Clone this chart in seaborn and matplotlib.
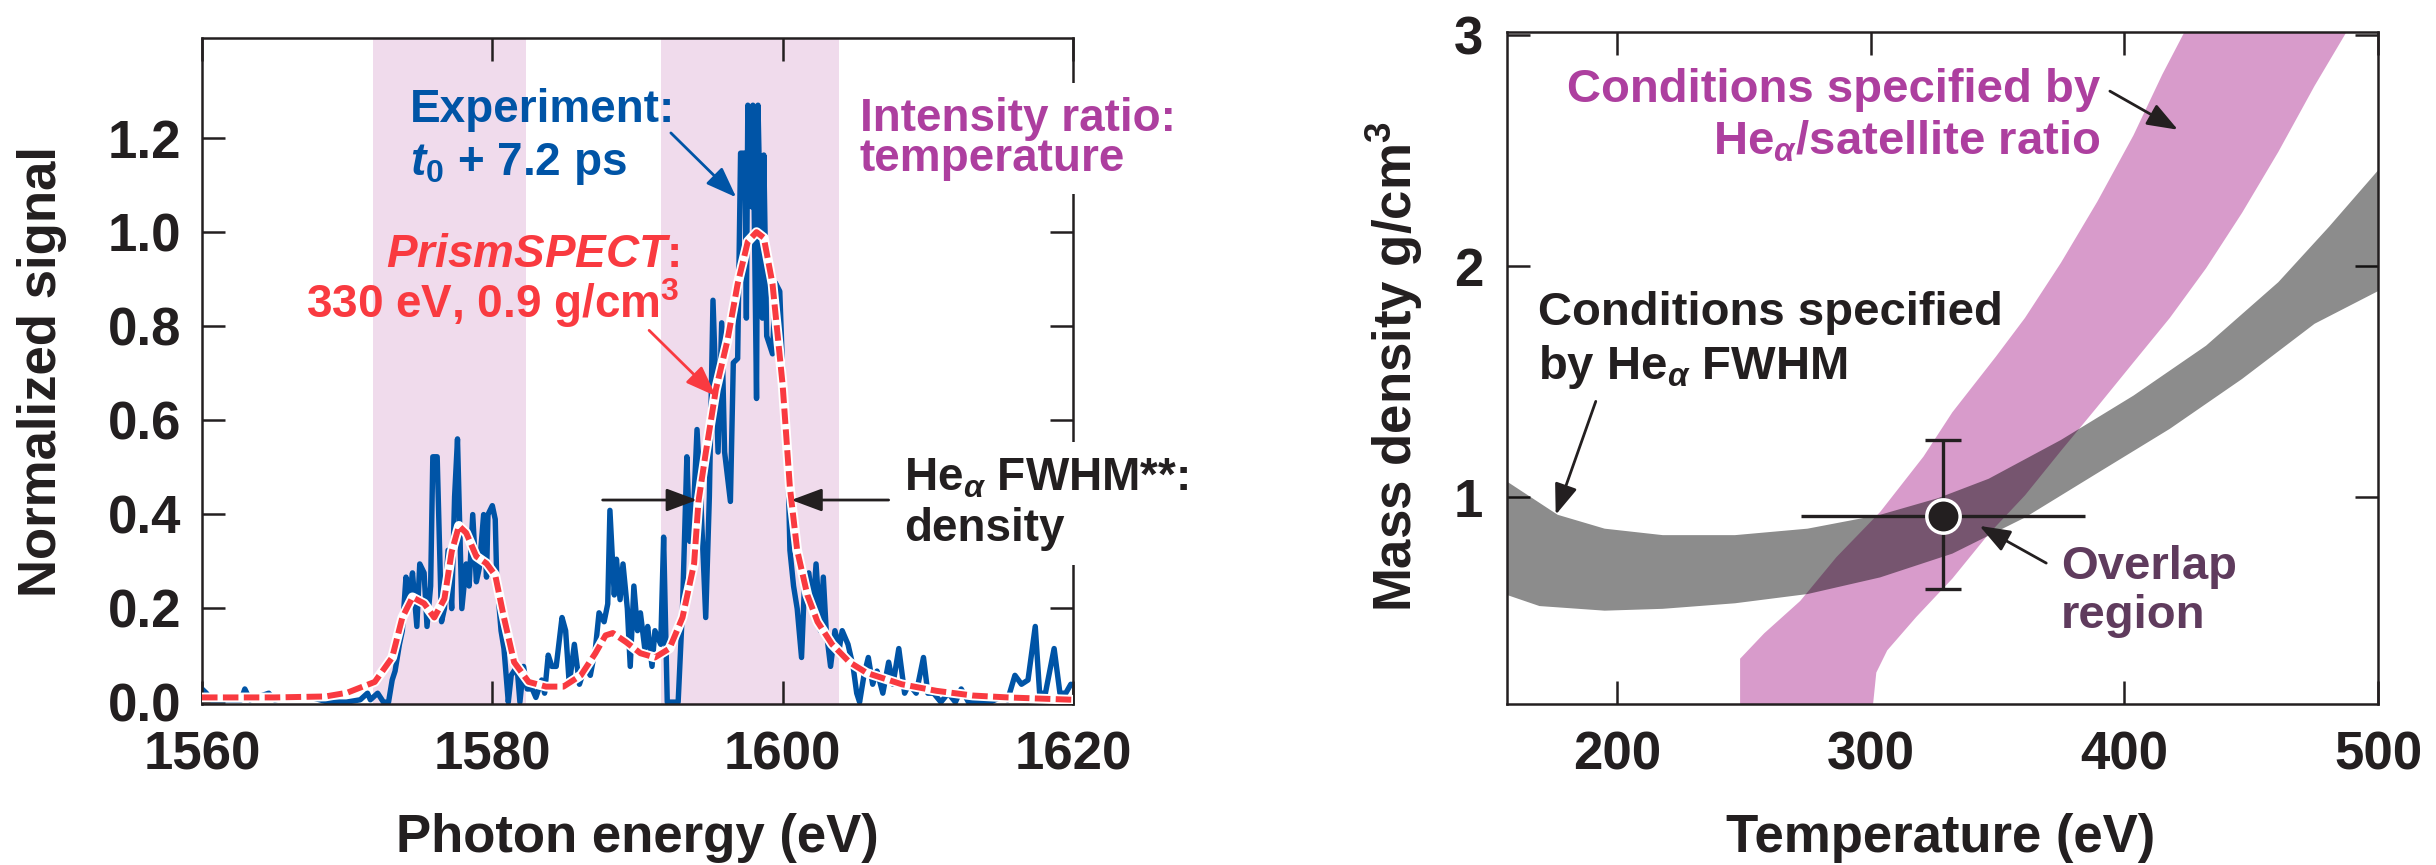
import numpy as np
import pandas as pd
import matplotlib
matplotlib.use("Agg")
import matplotlib.pyplot as plt
import seaborn as sns

# ---------------- data: left panel ----------------
band_lo = [1571.8, 1591.6]
band_hi = [1582.3, 1603.9]

exp_E = [1560.0, 1560.3, 1560.65, 1561.3, 1562.0, 1562.7, 1562.95, 1563.3, 1564.6, 1565.0,
         1566.1, 1567.5, 1568.7, 1569.95, 1570.9, 1571.4, 1571.6, 1572.1, 1572.5, 1572.85,
         1573.1, 1573.3, 1573.6, 1573.8, 1574.05, 1574.3, 1574.5, 1574.8, 1575.0, 1575.3,
         1575.5, 1575.75, 1575.9, 1576.2, 1576.5, 1576.7, 1576.95, 1577.2, 1577.4, 1577.6,
         1577.9, 1578.2, 1578.4, 1578.65, 1578.9, 1579.1, 1579.4, 1579.6, 1579.7, 1580.0,
         1580.2, 1580.3, 1580.6, 1580.8, 1581.1, 1581.3, 1581.7, 1581.9, 1582.15, 1582.4,
         1582.75, 1583.0, 1583.4, 1583.6, 1583.85, 1584.1, 1584.4, 1584.8, 1585.05, 1585.3,
         1585.65, 1586.0, 1586.4, 1586.75, 1587.1, 1587.35, 1587.7, 1587.95, 1588.1, 1588.4,
         1588.55, 1588.8, 1589.0, 1589.3, 1589.5, 1589.75, 1590.0, 1590.2, 1590.5, 1590.7,
         1591.0, 1591.2, 1591.6, 1591.8, 1592.05,
         1592.4, 1592.8, 1593.1, 1593.4, 1593.6, 1593.9, 1594.1, 1594.35, 1594.7, 1594.95,
         1595.2, 1595.55, 1595.8, 1596.0, 1596.4, 1596.6, 1596.9, 1597.1, 1597.4, 1597.5,
         1597.6, 1597.85, 1597.95, 1598.2, 1598.3, 1598.6, 1598.7, 1598.9, 1599.3, 1599.5,
         1599.8, 1600.0, 1600.3, 1600.5, 1600.75, 1601.0, 1601.3, 1601.5, 1601.8, 1602.1,
         1602.3, 1602.6, 1602.8, 1603.0, 1603.3, 1603.6, 1603.9, 1604.1, 1604.5, 1604.85,
         1605.1, 1605.3, 1605.6, 1605.9, 1606.2, 1606.5, 1606.9, 1607.3, 1607.6, 1608.0,
         1608.4, 1608.7, 1609.2, 1609.7, 1610.0, 1610.4, 1610.9, 1611.4, 1611.9, 1612.3,
         1612.8, 1613.3, 1614.3, 1615.0, 1615.5, 1616.0, 1616.45, 1616.9, 1617.4, 1617.7,
         1618.1, 1618.7, 1619.1, 1619.5, 1619.85]
exp_I = [0.028, 0.019, 0.005, 0.005, 0.005, 0.005, 0.028, 0.005, 0.019, 0.005,
         0.01, 0.01, 0.0, 0.0, 0.005, 0.019, 0.005, 0.019, 0.0, 0.0,
         0.047, 0.066, 0.123, 0.152, 0.266, 0.228, 0.275, 0.161, 0.294, 0.275,
         0.161, 0.247, 0.522, 0.522, 0.171, 0.199, 0.323, 0.199, 0.437, 0.56,
         0.199, 0.294, 0.247, 0.399, 0.256, 0.285, 0.399, 0.266, 0.399, 0.418,
         0.389, 0.266, 0.152, 0.114, 0.0, 0.057, 0.076, 0.0, 0.076, 0.028,
         0.028, 0.01, 0.047, 0.019, 0.1, 0.076, 0.076, 0.18, 0.152, 0.038,
         0.123, 0.038, 0.076, 0.057, 0.114, 0.19, 0.171, 0.209, 0.408, 0.228,
         0.304, 0.218, 0.294, 0.199, 0.076, 0.247, 0.152, 0.19, 0.114, 0.161,
         0.076, 0.152, 0.123, 0.351, 0.0,
         0.0, 0.0, 0.2, 0.522, 0.342, 0.437, 0.58, 0.437, 0.18, 0.437,
         0.855, 0.532, 0.807, 0.532, 0.427, 0.722, 0.731, 1.168, 1.168, 0.817,
         1.27, 1.054, 1.27, 0.646, 1.27, 0.817, 1.164, 0.779, 0.741, 0.892,
         0.874, 0.703, 0.589, 0.323, 0.247, 0.199, 0.095, 0.247, 0.275, 0.199,
         0.294, 0.152, 0.266, 0.152, 0.076, 0.152, 0.114, 0.152, 0.123, 0.076,
         0.019, 0.0, 0.057, 0.095, 0.038, 0.066, 0.019, 0.085, 0.038, 0.114,
         0.019, 0.038, 0.019, 0.095, 0.019, 0.019, 0.0, 0.019, 0.0, 0.028,
         0.0, 0.0, 0.0, 0.01, 0.005, 0.057, 0.038, 0.047, 0.161, 0.019,
         0.019, 0.114, 0.019, 0.019, 0.038]

model_E = [1560, 1565, 1568.5, 1570, 1571.9, 1573.1, 1573.8, 1574.5, 1575.3, 1576.0,
           1576.7, 1577.2, 1577.7, 1578.2, 1578.9, 1579.6, 1580.2, 1580.8, 1581.5, 1582.5,
           1583.7, 1584.9, 1586.1, 1587.1, 1587.8, 1588.3, 1589.2, 1590.2, 1591.2, 1592.2,
           1593.1, 1593.9, 1594.2, 1594.7, 1595.4, 1596.2, 1596.9, 1597.6, 1598.2, 1598.7,
           1599.3, 1600.0, 1600.5, 1601.0, 1601.7, 1602.4, 1603.4, 1604.6, 1605.8, 1608.2,
           1610.6, 1613.1, 1615.5, 1620]
model_I = [0.01, 0.01, 0.012, 0.02, 0.043, 0.095, 0.18, 0.223, 0.21, 0.18,
           0.22, 0.32, 0.375, 0.36, 0.31, 0.295, 0.27, 0.18, 0.085, 0.043,
           0.033, 0.033, 0.057, 0.104, 0.142, 0.147, 0.128, 0.104, 0.095, 0.114,
           0.18, 0.295, 0.427, 0.53, 0.665, 0.77, 0.89, 0.98, 1.0, 0.988,
           0.89, 0.674, 0.456, 0.323, 0.228, 0.171, 0.123, 0.085, 0.062, 0.038,
           0.024, 0.014, 0.01, 0.005]

left_xticks = [1560, 1580, 1600, 1620]
left_yticks = [0.0, 0.2, 0.4, 0.6, 0.8, 1.0, 1.2]
left_yticklabels = ["0.0", "0.2", "0.4", "0.6", "0.8", "1.0", "1.2"]

# ---------------- data: right panel ----------------
fwhm_upper_T = [156.6, 176.6, 195.1, 218, 246.5, 275.1, 303.7, 326.5, 346.5, 375, 403.6, 432.2, 460.7, 480.7, 500.5]
fwhm_upper_rho = [1.067, 0.923, 0.863, 0.835, 0.835, 0.863, 0.923, 0.995, 1.079, 1.247, 1.439, 1.655, 1.93, 2.17, 2.42]
fwhm_lower_T = [156.6, 169.4, 195.1, 218, 246.5, 275.1, 303.7, 332.2, 360.8, 389.3, 417.9, 446.4, 475, 500.5]
fwhm_lower_rho = [0.576, 0.528, 0.508, 0.516, 0.54, 0.58, 0.652, 0.755, 0.911, 1.103, 1.295, 1.511, 1.75, 1.894]

ratio_left_T = [248.5, 248.5, 258, 272.2, 286.5, 303.7, 320.8, 332.2, 349.3, 360.8, 375, 389.3, 403.6, 415, 424.5]
ratio_left_rho = [0.09, 0.30, 0.41, 0.55, 0.74, 0.935, 1.175, 1.367, 1.607, 1.775, 2.014, 2.278, 2.566, 2.83, 3.03]
ratio_right_T = [300.8, 302.2, 306.5, 317.9, 332.2, 346.5, 360.8, 375, 389.3, 403.6, 417.9, 432.2, 446.4, 460.7, 475, 488.5]
ratio_right_rho = [0.09, 0.24, 0.336, 0.48, 0.647, 0.84, 1.007, 1.2, 1.39, 1.583, 1.775, 1.99, 2.23, 2.494, 2.78, 3.03]

best_T = [328.6]
best_rho = [0.918]
T_err = [56.0]
rho_err_lo = [0.315]
rho_err_hi = [0.329]

right_xticks = [200, 300, 400, 500]
right_yticks = [1, 2, 3]

# ---------------- style ----------------
BLUE = "#0054a6"
RED = "#f93a40"
BAND = "#f0dbec"
MAGENTA = "#ad3f9f"
PINK = "#d89bcb"
OVERLAP = "#5f3b5d"
INK = "#231f20"

sns.set_theme(style="ticks")
plt.rcParams["font.family"] = ["Liberation Sans", "DejaVu Sans"]
plt.rcParams["font.weight"] = "bold"
plt.rcParams["mathtext.fontset"] = "custom"
plt.rcParams["mathtext.rm"] = "Liberation Sans:bold"
plt.rcParams["mathtext.bf"] = "Liberation Sans:bold"
plt.rcParams["mathtext.sf"] = "Liberation Sans:bold"
plt.rcParams["mathtext.it"] = "Liberation Sans:italic:bold"
plt.rcParams["axes.linewidth"] = 1.8
plt.rcParams["text.color"] = INK

W, H = 2436, 865
fig = plt.figure(figsize=(W / 100, H / 100), dpi=100)
ax1 = fig.add_axes([202 / W, 1 - 704 / H, (1073 - 202) / W, (704 - 38) / H])
ax2 = fig.add_axes([1507 / W, 1 - 704 / H, (2378 - 1507) / W, (704 - 32) / H])

TICK = 38
LAB = 38
ANN = 33

def style_axes(ax):
    for s in ax.spines.values():
        s.set_color(INK)
        s.set_linewidth(1.8)
    ax.tick_params(direction="in", length=16.5, width=1.8, colors=INK,
                   top=True, right=True, labelsize=TICK)
    ax.tick_params(axis="x", pad=19)
    ax.tick_params(axis="y", pad=15)
    for lab in ax.get_xticklabels() + ax.get_yticklabels():
        lab.set_fontweight("bold")

# ---------------- left panel ----------------
for lo, hi in zip(band_lo, band_hi):
    ax1.axvspan(lo, hi, color=BAND, lw=0, zorder=0)

df_exp = pd.DataFrame({"E": exp_E, "I": exp_I})
df_mod = pd.DataFrame({"E": model_E, "I": model_I})
sns.lineplot(data=df_exp, x="E", y="I", ax=ax1, color=BLUE, lw=3.9,
             estimator=None, sort=False, zorder=2)
sns.lineplot(data=df_mod, x="E", y="I", ax=ax1, color="white", lw=7.0,
             estimator=None, sort=False, zorder=3)
sns.lineplot(data=df_mod, x="E", y="I", ax=ax1, color=RED, lw=4.3,
             linestyle=(0, (2.6, 0.9)), estimator=None, sort=False, zorder=4)

ax1.set_xlim(1560, 1620)
ax1.set_ylim(-0.004, 1.413)
ax1.set_xticks(left_xticks)
ax1.set_xticklabels([str(v) for v in left_xticks])
ax1.set_yticks(left_yticks)
ax1.set_yticklabels(left_yticklabels)
style_axes(ax1)
ax1.set_xlabel("Photon energy (eV)", fontsize=LAB, fontweight="bold", color=INK)
ax1.set_ylabel("Normalized signal", fontsize=LAB, fontweight="bold", color=INK)
ax1.xaxis.set_label_coords(0.4994, -0.201)
ax1.xaxis.label.set_va("center")
ax1.yaxis.set_label_coords(-0.1837, 0.5)
ax1.yaxis.label.set_va("center")

ax1.text(1574.3, 1.235, "Experiment:", color=BLUE, fontsize=ANN, fontweight="bold",
         ha="left", va="baseline", zorder=6)
ax1.text(1574.3, 1.121, r"$t_0$ + 7.2 ps", color=BLUE, fontsize=ANN, fontweight="bold",
         ha="left", va="baseline", zorder=6)
ax1.text(1592.9, 0.9266, r"$\mathit{PrismSPECT}$:", color=RED, fontsize=ANN, fontweight="bold",
         ha="right", va="baseline", zorder=6)
ax1.text(1592.9, 0.817, r"330 eV, 0.9 g/cm$^3$", color=RED, fontsize=ANN, fontweight="bold",
         ha="right", va="baseline", zorder=6)

def boxed_text(ax, x, y, s, color):
    # white backing box (covers the spine), then the visible text on top
    ax.text(x, y, s, color="white", fontsize=ANN, fontweight="bold", ha="left",
            va="baseline", zorder=5, clip_on=False,
            bbox=dict(boxstyle="square,pad=0.3", fc="white", ec="none"))
    ax.text(x, y, s, color=color, fontsize=ANN, fontweight="bold", ha="left",
            va="baseline", zorder=6, clip_on=False)

boxed_text(ax1, 1605.3, 1.216, "Intensity ratio:", MAGENTA)
boxed_text(ax1, 1605.3, 1.131, "temperature", MAGENTA)
boxed_text(ax1, 1608.35, 0.451, r"He$_\alpha$ FWHM**:", INK)
boxed_text(ax1, 1608.35, 0.3426, "density", INK)

def arrow(ax, start, tip, color, lw=2.0):
    ax.annotate("", xy=tip, xytext=start,
                arrowprops=dict(arrowstyle="-|>,head_length=0.75,head_width=0.28",
                                lw=lw, color=color, shrinkA=0, shrinkB=0,
                                mutation_scale=25),
                zorder=7)

arrow(ax1, (1592.3, 1.211), (1596.8, 1.074), BLUE)
arrow(ax1, (1590.8, 0.791), (1595.4, 0.651), RED)
arrow(ax1, (1587.6, 0.43), (1594.1, 0.43), INK)
arrow(ax1, (1607.3, 0.43), (1600.6, 0.43), INK)

# ---------------- right panel ----------------
ax2.fill(ratio_left_T + ratio_right_T[::-1], ratio_left_rho + ratio_right_rho[::-1],
         color=PINK, lw=0, zorder=1)
ax2.fill(fwhm_upper_T + fwhm_lower_T[::-1], fwhm_upper_rho + fwhm_lower_rho[::-1],
         color="black", alpha=0.45, lw=0, zorder=2)

ax2.errorbar(best_T, best_rho, xerr=[T_err, T_err], fmt="none", ecolor=INK,
             elinewidth=2.4, capsize=0, zorder=5)
ax2.errorbar(best_T, best_rho, yerr=[rho_err_lo, rho_err_hi], fmt="none", ecolor=INK,
             elinewidth=2.4, capsize=13, capthick=2.4, zorder=5)
sns.scatterplot(x=best_T, y=best_rho, ax=ax2, s=24 ** 2, color=INK, edgecolor="white",
                linewidth=2.5, zorder=6)

ax2.set_xlim(156.6, 500)
ax2.set_ylim(0.104, 3.013)
ax2.set_xticks(right_xticks)
ax2.set_xticklabels([str(v) for v in right_xticks])
ax2.set_yticks(right_yticks)
ax2.set_yticklabels([str(v) for v in right_yticks])
style_axes(ax2)
ax2.tick_params(axis="y", pad=17)
ax2.set_xlabel("Temperature (eV)", fontsize=LAB, fontweight="bold", color=INK)
ax2.set_ylabel(r"Mass density g/cm$^3$", fontsize=LAB, fontweight="bold", color=INK)
ax2.xaxis.set_label_coords(0.498, -0.1994)
ax2.xaxis.label.set_va("center")
ax2.yaxis.set_label_coords(-0.1297, 0.5015)
ax2.yaxis.label.set_va("center")

RA = 34
ax2.text(390.6, 2.709, "Conditions specified by", color=MAGENTA, fontsize=RA,
         fontweight="bold", ha="right", va="baseline", zorder=8)
ax2.text(390.6, 2.482, r"He$_\alpha$/satellite ratio", color=MAGENTA, fontsize=RA,
         fontweight="bold", ha="right", va="baseline", zorder=8)
ax2.text(168.7, 1.745, "Conditions specified", color=INK, fontsize=RA,
         fontweight="bold", ha="left", va="baseline", zorder=8)
ax2.text(168.7, 1.51, r"by He$_\alpha$ FWHM", color=INK, fontsize=RA,
         fontweight="bold", ha="left", va="baseline", zorder=8)
ax2.text(374.9, 0.647, "Overlap", color=OVERLAP, fontsize=RA,
         fontweight="bold", ha="left", va="baseline", zorder=8)
ax2.text(374.9, 0.431, "region", color=OVERLAP, fontsize=RA,
         fontweight="bold", ha="left", va="baseline", zorder=8)

arrow(ax2, (394.3, 2.757), (421.1, 2.59), INK)
arrow(ax2, (191.6, 1.414), (175.8, 0.923), INK)
arrow(ax2, (369.2, 0.714), (342.9, 0.875), INK)

fig.savefig("out.png", dpi=100)
